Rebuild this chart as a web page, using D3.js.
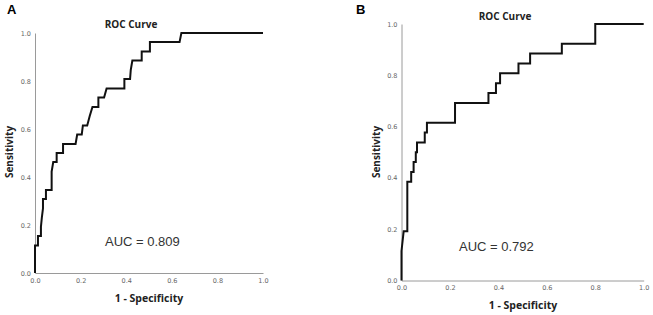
<!DOCTYPE html>
<html lang="en">
<head>
    <meta charset="UTF-8">
    <title>ROC Curves</title>
    <script src="https://cdn.jsdelivr.net/npm/d3@7"></script>
    <style>
        body { margin: 0; background: #fff; }
        svg { display: block; }
    </style>
</head>
<body>
    <div id="chart-space"></div>

    <script>
        // ROC vertices (1 - specificity, sensitivity)
        var fprA = [0, 0, 0.013, 0.013, 0.026, 0.026, 0.03, 0.035, 0.035, 0.048, 0.048, 0.073, 0.073, 0.08, 0.095, 0.095,
                    0.123, 0.123, 0.178, 0.185, 0.205, 0.21, 0.229, 0.24, 0.252, 0.278, 0.278, 0.303, 0.314, 0.392,
                    0.392, 0.417, 0.42, 0.427, 0.468, 0.468, 0.504, 0.504, 0.634, 0.642, 1];
        var tprA = [0, 0.115, 0.115, 0.154, 0.154, 0.192, 0.231, 0.269, 0.308, 0.308, 0.346, 0.346, 0.423, 0.462, 0.462, 0.5,
                    0.5, 0.538, 0.538, 0.577, 0.577, 0.615, 0.615, 0.654, 0.692, 0.692, 0.731, 0.731, 0.769, 0.769,
                    0.808, 0.808, 0.846, 0.885, 0.885, 0.923, 0.923, 0.962, 0.962, 1, 1];

        var fprB = [0, 0, 0.009, 0.024, 0.024, 0.04, 0.04, 0.05, 0.05, 0.059, 0.059, 0.064, 0.064, 0.096, 0.096, 0.105,
                    0.105, 0.221, 0.221, 0.359, 0.359, 0.39, 0.39, 0.407, 0.407, 0.483, 0.483, 0.531, 0.531, 0.662,
                    0.662, 0.8, 0.8, 1];
        var tprB = [0, 0.115, 0.192, 0.192, 0.385, 0.385, 0.423, 0.423, 0.462, 0.462, 0.5, 0.5, 0.538, 0.538, 0.577, 0.577,
                    0.615, 0.615, 0.692, 0.692, 0.731, 0.731, 0.769, 0.769, 0.808, 0.808, 0.846, 0.846, 0.885, 0.885,
                    0.923, 0.923, 1, 1];

        var tickValues = [0, 0.2, 0.4, 0.6, 0.8, 1.0];
        var panelLabels = ["A", "B"];
        var aucLabels = ["AUC = 0.809", "AUC = 0.792"];
        var chartTitle = "ROC Curve";
        var xLabel = "1 - Specificity";
        var yLabel = "Sensitivity";

        var width = 653, height = 315;

        // plot boxes for each panel (pixels)
        var panels = [
            { fpr: fprA, tpr: tprA, x0: 35, x1: 263, y0: 273, y1: 33,
              letter: [7, 14], title: [131, 28], auc: [105, 246], xlab: [149, 302], ylab: [13, 152] },
            { fpr: fprB, tpr: tprB, x0: 401.5, x1: 643.7, y0: 280.5, y1: 24,
              letter: [356, 14], title: [505, 20], auc: [459, 251], xlab: [523, 309], ylab: [380, 152] }
        ];

        var svg = d3.select("#chart-space")
            .append("svg")
            .attr("width", width)
            .attr("height", height);

        panels.forEach(function(p, i) {
            var g = svg.append("g");

            var xScale = d3.scaleLinear().domain([0, 1]).range([p.x0, p.x1]);
            var yScale = d3.scaleLinear().domain([0, 1]).range([p.y0, p.y1]);

            // axis lines with labels only (no tick marks)
            var xAxis = g.append("g")
                .attr("transform", "translate(0," + p.y0 + ")")
                .call(d3.axisBottom(xScale).tickValues(tickValues).tickSize(0).tickPadding(5).tickFormat(d3.format(".1f")));
            var yAxis = g.append("g")
                .attr("transform", "translate(" + p.x0 + ",0)")
                .call(d3.axisLeft(yScale).tickValues(tickValues).tickSize(0).tickPadding(4).tickFormat(d3.format(".1f")));

            [xAxis, yAxis].forEach(function(ax) {
                ax.select(".domain").attr("stroke", "#9a9a9a").attr("stroke-width", 1);
                ax.selectAll("text")
                    .attr("fill", "#666")
                    .style("font-family", "'DejaVu Sans', sans-serif")
                    .style("font-size", "6.5px");
            });

            var pts = p.fpr.map(function(f, k) { return [f, p.tpr[k]]; });
            var line = d3.line()
                .x(function(d) { return xScale(d[0]); })
                .y(function(d) { return yScale(d[1]); });

            g.append("path")
                .datum(pts)
                .attr("d", line)
                .attr("fill", "none")
                .attr("stroke", "#111")
                .attr("stroke-width", 2)
                .attr("stroke-linejoin", "miter");

            g.append("text")
                .attr("x", p.letter[0]).attr("y", p.letter[1])
                .text(panelLabels[i])
                .style("font-family", "'Liberation Sans', Arial, sans-serif")
                .style("font-weight", "bold")
                .style("font-size", "13px");

            g.append("text")
                .attr("x", p.title[0]).attr("y", p.title[1])
                .attr("text-anchor", "middle")
                .text(chartTitle)
                .attr("fill", "#222")
                .style("font-family", "'Open Sans', sans-serif")
                .style("font-weight", "bold")
                .style("font-size", "10px");

            g.append("text")
                .attr("x", p.auc[0]).attr("y", p.auc[1])
                .text(aucLabels[i])
                .attr("fill", "#333")
                .style("font-family", "'Liberation Sans', Arial, sans-serif")
                .style("font-size", "13px");

            g.append("text")
                .attr("x", p.xlab[0]).attr("y", p.xlab[1])
                .attr("text-anchor", "middle")
                .text(xLabel)
                .attr("fill", "#222")
                .style("font-family", "'Open Sans', sans-serif")
                .style("font-weight", "bold")
                .style("font-size", "10.5px");

            g.append("text")
                .attr("transform", "translate(" + p.ylab[0] + "," + p.ylab[1] + ") rotate(-90)")
                .attr("text-anchor", "middle")
                .text(yLabel)
                .attr("fill", "#222")
                .style("font-family", "'Open Sans', sans-serif")
                .style("font-weight", "bold")
                .style("font-size", "10px");
        });
    </script>
</body>
</html>
